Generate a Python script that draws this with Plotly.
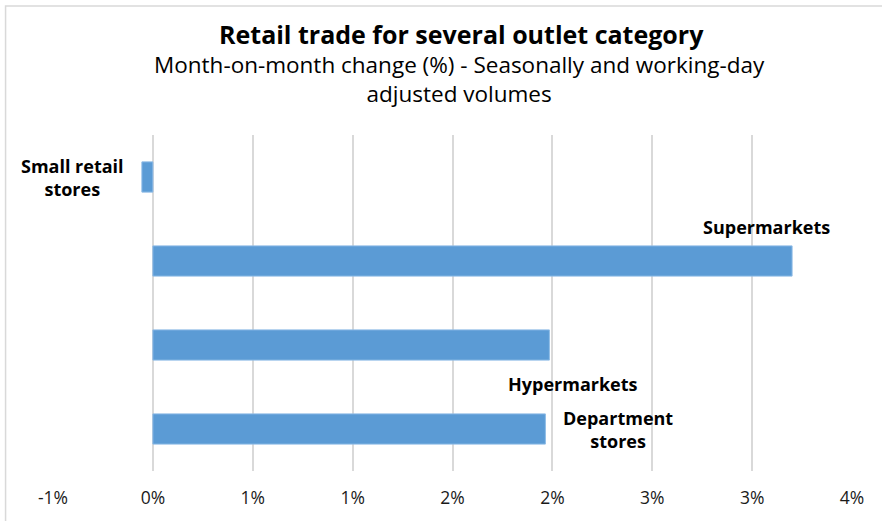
import plotly.graph_objects as go

categories = ["Small retail stores", "Supermarkets", "Hypermarkets", "Department stores"]
values = [-0.055, 3.2, 1.985, 1.965]  # month-on-month change, %
tick_vals = [-0.5, 0.0, 0.5, 1.0, 1.5, 2.0, 2.5, 3.0, 3.5]
tick_text = ["-1%", "0%", "1%", "1%", "2%", "2%", "3%", "3%", "4%"]
label_texts = ["Small retail<br>stores", "Supermarkets", "Hypermarkets", "Department<br>stores"]
label_x = [-0.4025, 3.07, 2.105, 2.33]
label_y = [0.0, 0.6, 2.46, 3.0]

W, H = 882, 521
L, R, T, B = 52.5, 29.5, 135, 46

fig = go.Figure()
fig.add_trace(go.Bar(
    y=categories, x=values, orientation="h",
    marker=dict(color="#5b9bd5", line=dict(color="#8dbbe6", width=1)),
    width=0.36, hoverinfo="x+y",
))

font_family = "'Open Sans', Lato, sans-serif"

annotations = []
for t, x, y in zip(label_texts, label_x, label_y):
    annotations.append(dict(
        text="<b>" + t + "</b>", x=x, y=y, xref="x", yref="y",
        showarrow=False, xanchor="center", yanchor="middle",
        font=dict(family=font_family, size=18, color="#000000"),
    ))

def px_to_paper_x(px):
    return (px - L) / (W - L - R)

def px_to_paper_y(py):
    return (H - B - py) / (H - T - B)

annotations.append(dict(
    text="<b>Retail trade for several outlet category</b>",
    x=px_to_paper_x(462), y=px_to_paper_y(33), xref="paper", yref="paper",
    showarrow=False, xanchor="center", yanchor="middle",
    font=dict(family=font_family, size=25, color="#000000"),
))
annotations.append(dict(
    text="Month-on-month change (%) - Seasonally and working-day<br>adjusted volumes",
    x=px_to_paper_x(460), y=px_to_paper_y(78), xref="paper", yref="paper",
    showarrow=False, xanchor="center", yanchor="middle", align="center",
    font=dict(family=font_family, size=22.5, color="#000000"),
))

fig.update_layout(
    width=W, height=H,
    margin=dict(l=L, r=R, t=T, b=B, pad=0),
    paper_bgcolor="white", plot_bgcolor="white",
    showlegend=False,
    annotations=annotations,
    shapes=[dict(type="rect", xref="paper", yref="paper",
                 x0=px_to_paper_x(5), x1=px_to_paper_x(900),
                 y0=px_to_paper_y(540), y1=px_to_paper_y(4.5),
                 line=dict(color="#d9d9d9", width=1.5), layer="below")],
    xaxis=dict(
        range=[-0.5, 3.5], tickvals=tick_vals, ticktext=tick_text,
        showgrid=True, gridcolor="#d9d9d9", gridwidth=1.5,
        zeroline=False, showline=False, ticks="",
        tickfont=dict(family=font_family, size=17.5, color="#1a1a1a"),
        ticklabelstandoff=14,
    ),
    yaxis=dict(
        range=[3.5, -0.5], showticklabels=False, showgrid=False,
        zeroline=False, showline=False, ticks="",
    ),
)

fig.write_html("out.html")
